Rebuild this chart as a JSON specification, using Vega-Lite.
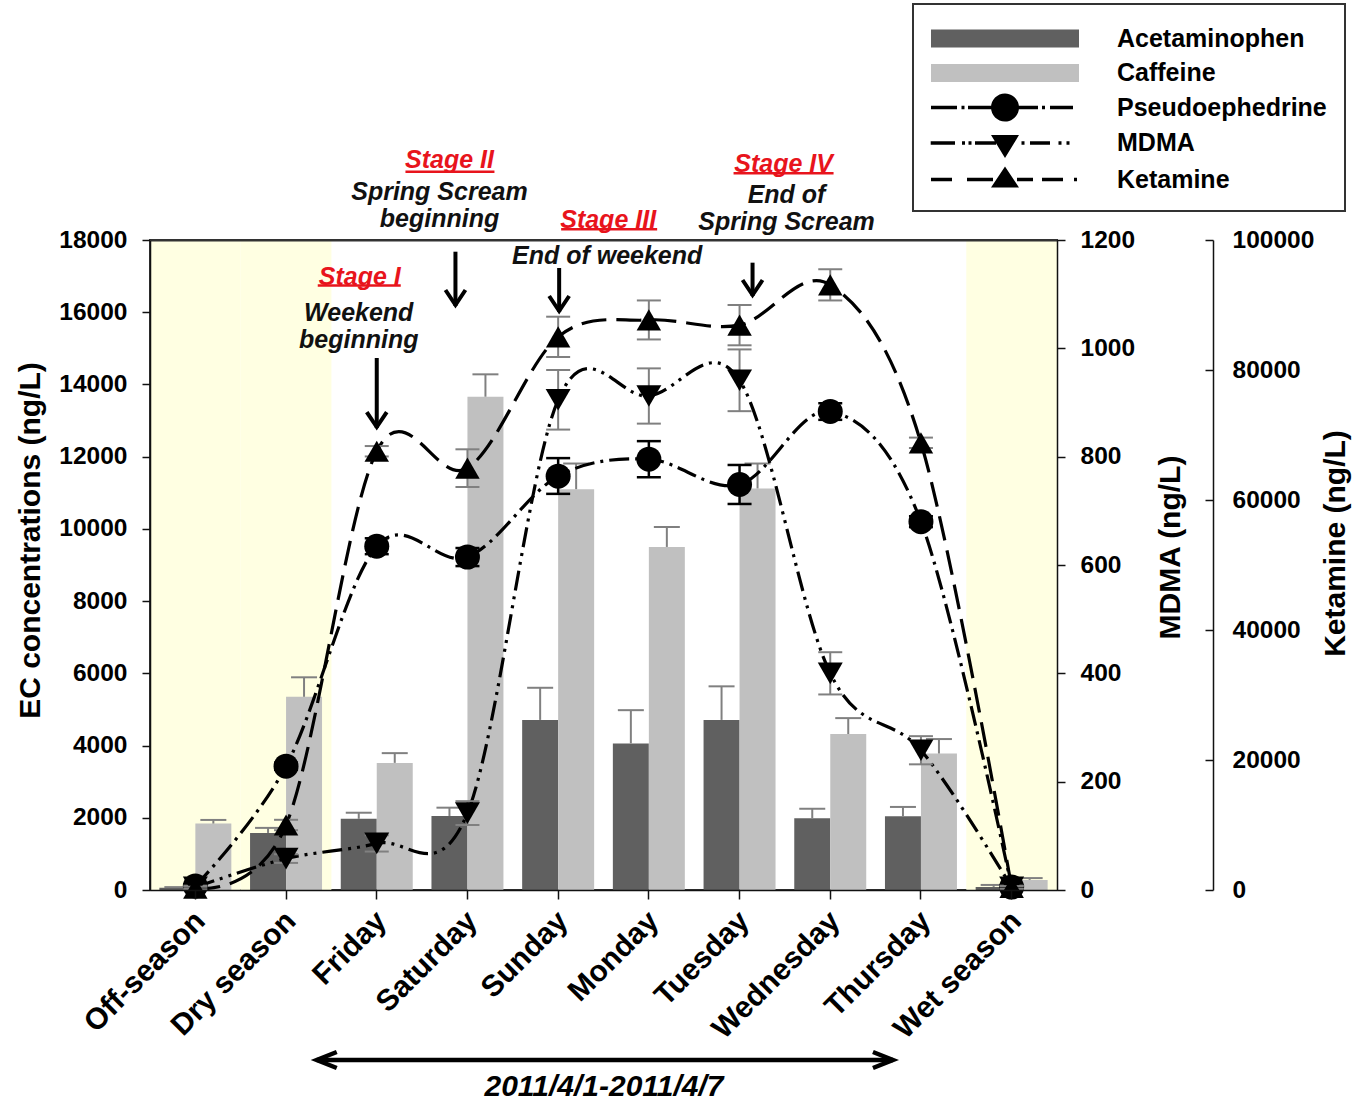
{
  "$schema": "https://vega.github.io/schema/vega-lite/v6.json",
  "width": 907,
  "height": 650,
  "autosize": {"type": "none"},
  "padding": {"left": 150, "top": 240, "right": 298, "bottom": 210},
  "background": "white",
  "datasets": {
    "shade": [{"day": "Off-season"}, {"day": "Dry season"}, {"day": "Wet season"}],
    "bars": [
      {"day": "Off-season", "series": "Acetaminophen", "v": 60, "hi": 80},
      {"day": "Off-season", "series": "Caffeine", "v": 1840, "hi": 1940},
      {"day": "Dry season", "series": "Acetaminophen", "v": 1580, "hi": 1720},
      {"day": "Dry season", "series": "Caffeine", "v": 5350, "hi": 5890},
      {"day": "Friday", "series": "Acetaminophen", "v": 1970, "hi": 2140},
      {"day": "Friday", "series": "Caffeine", "v": 3520, "hi": 3790},
      {"day": "Saturday", "series": "Acetaminophen", "v": 2050, "hi": 2280},
      {"day": "Saturday", "series": "Caffeine", "v": 13660, "hi": 14280},
      {"day": "Sunday", "series": "Acetaminophen", "v": 4710, "hi": 5600},
      {"day": "Sunday", "series": "Caffeine", "v": 11100, "hi": 11810},
      {"day": "Monday", "series": "Acetaminophen", "v": 4060, "hi": 4980},
      {"day": "Monday", "series": "Caffeine", "v": 9500, "hi": 10050},
      {"day": "Tuesday", "series": "Acetaminophen", "v": 4710, "hi": 5640},
      {"day": "Tuesday", "series": "Caffeine", "v": 11120, "hi": 11810},
      {"day": "Wednesday", "series": "Acetaminophen", "v": 1990, "hi": 2250},
      {"day": "Wednesday", "series": "Caffeine", "v": 4320, "hi": 4760},
      {"day": "Thursday", "series": "Acetaminophen", "v": 2040, "hi": 2300},
      {"day": "Thursday", "series": "Caffeine", "v": 3780, "hi": 4180},
      {"day": "Wet season", "series": "Acetaminophen", "v": 85, "hi": 140},
      {"day": "Wet season", "series": "Caffeine", "v": 280, "hi": 330}
    ],
    "drugs": [
      {"day": "Off-season", "pse": 110, "pse_lo": 60, "pse_hi": 160, "mdma": 5, "mdma_lo": 2, "mdma_hi": 8, "ket": 300, "ket_lo": 100, "ket_hi": 500},
      {"day": "Dry season", "pse": 3430, "pse_lo": 3330, "pse_hi": 3530, "mdma": 58, "mdma_lo": 50, "mdma_hi": 66, "ket": 10000, "ket_lo": 9200, "ket_hi": 10800},
      {"day": "Friday", "pse": 9520, "pse_lo": 9300, "pse_hi": 9740, "mdma": 86, "mdma_lo": 71, "mdma_hi": 101, "ket": 67500, "ket_lo": 66700, "ket_hi": 68300},
      {"day": "Saturday", "pse": 9220, "pse_lo": 8970, "pse_hi": 9470, "mdma": 142, "mdma_lo": 120, "mdma_hi": 164, "ket": 64900, "ket_lo": 62000, "ket_hi": 67800},
      {"day": "Sunday", "pse": 11460, "pse_lo": 10970, "pse_hi": 11960, "mdma": 905, "mdma_lo": 850, "mdma_hi": 960, "ket": 85100, "ket_lo": 82000, "ket_hi": 88200},
      {"day": "Monday", "pse": 11930, "pse_lo": 11430, "pse_hi": 12430, "mdma": 912, "mdma_lo": 861, "mdma_hi": 963, "ket": 87700, "ket_lo": 84700, "ket_hi": 90700},
      {"day": "Tuesday", "pse": 11230, "pse_lo": 10690, "pse_hi": 11770, "mdma": 941, "mdma_lo": 884, "mdma_hi": 998, "ket": 86900, "ket_lo": 83800, "ket_hi": 90000},
      {"day": "Wednesday", "pse": 13250, "pse_lo": 13020, "pse_hi": 13480, "mdma": 400, "mdma_lo": 361, "mdma_hi": 439, "ket": 93100, "ket_lo": 90700, "ket_hi": 95500},
      {"day": "Thursday", "pse": 10200, "pse_lo": 10050, "pse_hi": 10350, "mdma": 258, "mdma_lo": 232, "mdma_hi": 284, "ket": 68800, "ket_lo": 68000, "ket_hi": 69600},
      {"day": "Wet season", "pse": 80, "pse_lo": 30, "pse_hi": 130, "mdma": 5, "mdma_lo": 2, "mdma_hi": 8, "ket": 400, "ket_lo": 200, "ket_hi": 600}
    ],
    "legendrows": [
      {"series": "Acetaminophen"}, {"series": "Caffeine"}, {"series": "Pseudoephedrine"}, {"series": "MDMA"}, {"series": "Ketamine"}
    ]
  },
  "config": {
    "font": "Liberation Sans",
    "view": {"stroke": "#333", "strokeWidth": 2},
    "axis": {
      "labelFont": "Liberation Sans", "labelFontSize": 24.5, "labelFontWeight": "bold", "labelColor": "black",
      "titleFont": "Liberation Sans", "titleFontSize": 30, "titleFontWeight": "bold", "titleColor": "black",
      "domainColor": "#111", "domainWidth": 1.5, "tickColor": "#111", "tickWidth": 1.5, "tickSize": 8, "grid": false, "zindex": 1
    },
    "legend": {"strokeWidth": 2}
  },
  "layer": [
    {
      "layer": [
        {
          "data": {"name": "shade"},
          "mark": {"type": "rect", "color": "#ffffe2"},
          "encoding": {
            "x": {"field": "day", "type": "nominal"},
            "y": {"datum": 0, "type": "quantitative"},
            "y2": {"datum": 18000}
          }
        },
        {
          "data": {"name": "bars"},
          "mark": {"type": "bar"},
          "encoding": {
            "x": {
              "field": "day", "type": "nominal",
              "scale": {"domain": ["Off-season", "Dry season", "Friday", "Saturday", "Sunday", "Monday", "Tuesday", "Wednesday", "Thursday", "Wet season"], "paddingInner": 0, "paddingOuter": 0},
              "axis": {
                "orient": "bottom", "zindex": 1,
                "title": "2011/4/1-2011/4/7", "titleFontStyle": "italic", "titleFontSize": 30, "titleY": 205, "titleBaseline": "alphabetic",
                "labelAngle": -45, "labelFontSize": 30, "labelAlign": "right", "labelBaseline": "middle", "labelPadding": 17, "labelOffset": 5,
                "labelOverlap": false, "labelLimit": 400, "bandPosition": 0.5, "tickSize": 9
              }
            },
            "xOffset": {"field": "series", "type": "nominal", "scale": {"domain": ["Acetaminophen", "Caffeine"], "paddingInner": 0, "paddingOuter": 0.26}},
            "y": {
              "field": "v", "type": "quantitative",
              "scale": {"domain": [0, 18000], "nice": false},
              "axis": {
                "title": "EC concentrations (ng/L)", "orient": "left", "zindex": 1,
                "values": [0, 2000, 4000, 6000, 8000, 10000, 12000, 14000, 16000, 18000], "format": "d",
                "labelPadding": 15, "labelOverlap": false,
                "titleX": -120, "titleY": 300, "titleAngle": -90, "titleBaseline": "middle", "titleAlign": "center"
              }
            },
            "color": {"field": "series", "type": "nominal"}
          }
        },
        {
          "data": {"name": "bars"},
          "mark": {"type": "rule", "color": "#808080", "strokeWidth": 2},
          "encoding": {
            "x": {"field": "day", "type": "nominal"},
            "xOffset": {"field": "series", "type": "nominal"},
            "y": {"field": "v", "type": "quantitative"},
            "y2": {"field": "hi"}
          }
        },
        {
          "data": {"name": "bars"},
          "mark": {"type": "tick", "color": "#808080", "thickness": 2, "size": 26, "opacity": 1},
          "encoding": {
            "x": {"field": "day", "type": "nominal"},
            "xOffset": {"field": "series", "type": "nominal"},
            "y": {"field": "hi", "type": "quantitative"}
          }
        },
        {
          "data": {"name": "drugs"},
          "mark": {"type": "line", "interpolate": "cardinal", "color": "black", "strokeWidth": 3.2, "strokeDash": [20, 6, 3, 6], "clip": true},
          "encoding": {
            "x": {"field": "day", "type": "nominal", "sort": null},
            "y": {"field": "pse", "type": "quantitative"}
          }
        },
        {
          "data": {"name": "drugs"},
          "mark": {"type": "rule", "color": "black", "strokeWidth": 2.5},
          "encoding": {
            "x": {"field": "day", "type": "nominal"},
            "y": {"field": "pse_lo", "type": "quantitative"},
            "y2": {"field": "pse_hi"}
          }
        },
        {
          "data": {"name": "drugs"},
          "mark": {"type": "tick", "color": "black", "thickness": 2.5, "size": 24, "opacity": 1},
          "encoding": {
            "x": {"field": "day", "type": "nominal"},
            "y": {"field": "pse_lo", "type": "quantitative"}
          }
        },
        {
          "data": {"name": "drugs"},
          "mark": {"type": "tick", "color": "black", "thickness": 2.5, "size": 24, "opacity": 1},
          "encoding": {
            "x": {"field": "day", "type": "nominal"},
            "y": {"field": "pse_hi", "type": "quantitative"}
          }
        },
        {
          "data": {"name": "drugs"},
          "mark": {"type": "point", "shape": "circle", "filled": true, "color": "black", "size": 625, "opacity": 1, "strokeWidth": 0},
          "encoding": {
            "x": {"field": "day", "type": "nominal"},
            "y": {"field": "pse", "type": "quantitative"}
          }
        },
        {
          "data": {"values": [{}]},
          "mark": {"type": "text", "fontSize": 25, "fontWeight": "bold", "fontStyle": "italic", "color": "#e8141c", "align": "center", "baseline": "middle", "dx": -17},
          "encoding": {"x": {"datum": "Friday", "type": "nominal"}, "y": {"datum": 16981, "type": "quantitative"}, "text": {"value": "Stage I"}}
        },
        {
          "data": {"values": [{}]},
          "mark": {"type": "rule", "color": "#e8141c", "strokeWidth": 2.5, "xOffset": -59, "x2Offset": 24},
          "encoding": {"x": {"datum": "Friday", "type": "nominal"}, "x2": {"datum": "Friday"}, "y": {"datum": 16740, "type": "quantitative"}}
        },
        {
          "data": {"values": [{}]},
          "mark": {"type": "text", "fontSize": 25, "fontWeight": "bold", "fontStyle": "italic", "color": "#111", "align": "center", "baseline": "middle", "dx": -18, "lineHeight": 27},
          "encoding": {"x": {"datum": "Friday", "type": "nominal"}, "y": {"datum": 15992, "type": "quantitative"}, "text": {"value": ["Weekend", "beginning"]}}
        },
        {
          "data": {"values": [{}]},
          "mark": {"type": "rule", "color": "black", "strokeWidth": 4},
          "encoding": {"x": {"datum": "Friday", "type": "nominal"}, "y": {"datum": 14732, "type": "quantitative"}, "y2": {"datum": 12794}}
        },
        {
          "data": {"values": [{}]},
          "mark": {"type": "point", "shape": "M-1,-1.5L0,0L1,-1.5", "size": 400, "filled": false, "color": "black", "strokeWidth": 4, "opacity": 1, "strokeJoin": "miter"},
          "encoding": {"x": {"datum": "Friday", "type": "nominal"}, "y": {"datum": 12821, "type": "quantitative"}}
        },
        {
          "data": {"values": [{}]},
          "mark": {"type": "text", "fontSize": 25, "fontWeight": "bold", "fontStyle": "italic", "color": "#e8141c", "align": "center", "baseline": "middle", "dx": -18},
          "encoding": {"x": {"datum": "Saturday", "type": "nominal"}, "y": {"datum": 20210, "type": "quantitative"}, "text": {"value": "Stage II"}}
        },
        {
          "data": {"values": [{}]},
          "mark": {"type": "rule", "color": "#e8141c", "strokeWidth": 2.5, "xOffset": -62, "x2Offset": 27},
          "encoding": {"x": {"datum": "Saturday", "type": "nominal"}, "x2": {"datum": "Saturday"}, "y": {"datum": 19891, "type": "quantitative"}}
        },
        {
          "data": {"values": [{}]},
          "mark": {"type": "text", "fontSize": 25, "fontWeight": "bold", "fontStyle": "italic", "color": "#111", "align": "center", "baseline": "middle", "dx": -28, "lineHeight": 27},
          "encoding": {"x": {"datum": "Saturday", "type": "nominal"}, "y": {"datum": 19343, "type": "quantitative"}, "text": {"value": ["Spring Scream", "beginning"]}}
        },
        {
          "data": {"values": [{}]},
          "mark": {"type": "rule", "color": "black", "strokeWidth": 4, "xOffset": -12},
          "encoding": {"x": {"datum": "Saturday", "type": "nominal"}, "y": {"datum": 17676, "type": "quantitative"}, "y2": {"datum": 16172}}
        },
        {
          "data": {"values": [{}]},
          "mark": {"type": "point", "shape": "M-1,-1.5L0,0L1,-1.5", "size": 400, "filled": false, "color": "black", "strokeWidth": 4, "opacity": 1, "strokeJoin": "miter", "xOffset": -12},
          "encoding": {"x": {"datum": "Saturday", "type": "nominal"}, "y": {"datum": 16200, "type": "quantitative"}}
        },
        {
          "data": {"values": [{}]},
          "mark": {"type": "text", "fontSize": 25, "fontWeight": "bold", "fontStyle": "italic", "color": "#e8141c", "align": "center", "baseline": "middle", "dx": 50},
          "encoding": {"x": {"datum": "Sunday", "type": "nominal"}, "y": {"datum": 18548, "type": "quantitative"}, "text": {"value": "Stage III"}}
        },
        {
          "data": {"values": [{}]},
          "mark": {"type": "rule", "color": "#e8141c", "strokeWidth": 2.5, "xOffset": 3, "x2Offset": 99},
          "encoding": {"x": {"datum": "Sunday", "type": "nominal"}, "x2": {"datum": "Sunday"}, "y": {"datum": 18296, "type": "quantitative"}}
        },
        {
          "data": {"values": [{}]},
          "mark": {"type": "text", "fontSize": 25, "fontWeight": "bold", "fontStyle": "italic", "color": "#111", "align": "center", "baseline": "middle", "dx": 49},
          "encoding": {"x": {"datum": "Sunday", "type": "nominal"}, "y": {"datum": 17563, "type": "quantitative"}, "text": {"value": "End of weekend"}}
        },
        {
          "data": {"values": [{}]},
          "mark": {"type": "rule", "color": "black", "strokeWidth": 4, "xOffset": 1},
          "encoding": {"x": {"datum": "Sunday", "type": "nominal"}, "y": {"datum": 17225, "type": "quantitative"}, "y2": {"datum": 16006}}
        },
        {
          "data": {"values": [{}]},
          "mark": {"type": "point", "shape": "M-1,-1.5L0,0L1,-1.5", "size": 400, "filled": false, "color": "black", "strokeWidth": 4, "opacity": 1, "strokeJoin": "miter", "xOffset": 1},
          "encoding": {"x": {"datum": "Sunday", "type": "nominal"}, "y": {"datum": 16034, "type": "quantitative"}}
        },
        {
          "data": {"values": [{}]},
          "mark": {"type": "text", "fontSize": 25, "fontWeight": "bold", "fontStyle": "italic", "color": "#e8141c", "align": "center", "baseline": "middle", "dx": 44},
          "encoding": {"x": {"datum": "Tuesday", "type": "nominal"}, "y": {"datum": 20105, "type": "quantitative"}, "text": {"value": "Stage IV"}}
        },
        {
          "data": {"values": [{}]},
          "mark": {"type": "rule", "color": "#e8141c", "strokeWidth": 2.5, "xOffset": -6, "x2Offset": 94},
          "encoding": {"x": {"datum": "Tuesday", "type": "nominal"}, "x2": {"datum": "Tuesday"}, "y": {"datum": 19847, "type": "quantitative"}}
        },
        {
          "data": {"values": [{}]},
          "mark": {"type": "text", "fontSize": 25, "fontWeight": "bold", "fontStyle": "italic", "color": "#111", "align": "center", "baseline": "middle", "dx": 47, "lineHeight": 27},
          "encoding": {"x": {"datum": "Tuesday", "type": "nominal"}, "y": {"datum": 19252, "type": "quantitative"}, "text": {"value": ["End of", "Spring Scream"]}}
        },
        {
          "data": {"values": [{}]},
          "mark": {"type": "rule", "color": "black", "strokeWidth": 4, "xOffset": 13},
          "encoding": {"x": {"datum": "Tuesday", "type": "nominal"}, "y": {"datum": 17372, "type": "quantitative"}, "y2": {"datum": 16449}}
        },
        {
          "data": {"values": [{}]},
          "mark": {"type": "point", "shape": "M-1,-1.5L0,0L1,-1.5", "size": 400, "filled": false, "color": "black", "strokeWidth": 4, "opacity": 1, "strokeJoin": "miter", "xOffset": 13},
          "encoding": {"x": {"datum": "Tuesday", "type": "nominal"}, "y": {"datum": 16477, "type": "quantitative"}}
        },
        {
          "data": {"values": [{}]},
          "mark": {"type": "rule", "color": "black", "strokeWidth": 4.5, "xOffset": -60, "x2Offset": -28},
          "encoding": {"x": {"datum": "Friday", "type": "nominal"}, "x2": {"datum": "Thursday"}, "y": {"datum": -4708, "type": "quantitative"}}
        },
        {
          "data": {"values": [{}]},
          "mark": {"type": "point", "shape": "M2,-0.8L0,0L2,0.8", "size": 400, "filled": false, "color": "black", "strokeWidth": 4.5, "opacity": 1, "strokeJoin": "miter", "xOffset": -60},
          "encoding": {"x": {"datum": "Friday", "type": "nominal"}, "y": {"datum": -4708, "type": "quantitative"}}
        },
        {
          "data": {"values": [{}]},
          "mark": {"type": "point", "shape": "M-2,-0.8L0,0L-2,0.8", "size": 400, "filled": false, "color": "black", "strokeWidth": 4.5, "opacity": 1, "strokeJoin": "miter", "xOffset": -28},
          "encoding": {"x": {"datum": "Thursday", "type": "nominal"}, "y": {"datum": -4708, "type": "quantitative"}}
        }
      ]
    },
    {
      "layer": [
        {
          "data": {"name": "drugs"},
          "mark": {"type": "line", "interpolate": "cardinal", "color": "black", "strokeWidth": 3.2, "strokeDash": [20, 6, 3, 6, 3, 6], "clip": true},
          "encoding": {
            "x": {"field": "day", "type": "nominal", "sort": null,
                  "axis": {"orient": "top", "zindex": 1, "labels": false, "ticks": false, "title": null, "domain": true, "domainColor": "#333", "domainWidth": 2}},
            "y": {
              "field": "mdma", "type": "quantitative",
              "scale": {"domain": [0, 1200], "nice": false},
              "axis": {
                "title": "MDMA (ng/L)", "orient": "right", "zindex": 1, "values": [0, 200, 400, 600, 800, 1000, 1200], "format": "d",
                "labelPadding": 15, "labelOverlap": false,
                "titleX": 113, "titleY": 307, "titleAngle": -90, "titleBaseline": "middle", "titleAlign": "center"
              }
            }
          }
        },
        {
          "data": {"name": "drugs"},
          "mark": {"type": "rule", "color": "#808080", "strokeWidth": 2},
          "encoding": {
            "x": {"field": "day", "type": "nominal"},
            "y": {"field": "mdma_lo", "type": "quantitative"},
            "y2": {"field": "mdma_hi"}
          }
        },
        {
          "data": {"name": "drugs"},
          "mark": {"type": "tick", "color": "#808080", "thickness": 2, "size": 24, "opacity": 1},
          "encoding": {
            "x": {"field": "day", "type": "nominal"},
            "y": {"field": "mdma_lo", "type": "quantitative"}
          }
        },
        {
          "data": {"name": "drugs"},
          "mark": {"type": "tick", "color": "#808080", "thickness": 2, "size": 24, "opacity": 1},
          "encoding": {
            "x": {"field": "day", "type": "nominal"},
            "y": {"field": "mdma_hi", "type": "quantitative"}
          }
        },
        {
          "data": {"name": "drugs"},
          "mark": {"type": "point", "shape": "triangle-down", "filled": true, "color": "black", "size": 625, "opacity": 1, "strokeWidth": 0},
          "encoding": {
            "x": {"field": "day", "type": "nominal"},
            "y": {"field": "mdma", "type": "quantitative"}
          }
        }
      ]
    },
    {
      "layer": [
        {
          "data": {"name": "drugs"},
          "mark": {"type": "line", "interpolate": "cardinal", "color": "black", "strokeWidth": 3.2, "strokeDash": [25, 10], "clip": true},
          "encoding": {
            "x": {"field": "day", "type": "nominal", "sort": null, "axis": null},
            "y": {
              "field": "ket", "type": "quantitative",
              "scale": {"domain": [0, 100000], "nice": false},
              "axis": {
                "title": "Ketamine (ng/L)", "orient": "right", "offset": 156, "zindex": 1, "values": [0, 20000, 40000, 60000, 80000, 100000], "format": "d",
                "tickSize": -8, "labelPadding": 27, "labelOverlap": false,
                "titleX": 122, "titleY": 303, "titleAngle": -90, "titleBaseline": "middle", "titleAlign": "center"
              }
            }
          }
        },
        {
          "data": {"name": "drugs"},
          "mark": {"type": "rule", "color": "#808080", "strokeWidth": 2},
          "encoding": {
            "x": {"field": "day", "type": "nominal", "axis": null},
            "y": {"field": "ket_lo", "type": "quantitative"},
            "y2": {"field": "ket_hi"}
          }
        },
        {
          "data": {"name": "drugs"},
          "mark": {"type": "tick", "color": "#808080", "thickness": 2, "size": 24, "opacity": 1},
          "encoding": {
            "x": {"field": "day", "type": "nominal", "axis": null},
            "y": {"field": "ket_lo", "type": "quantitative"}
          }
        },
        {
          "data": {"name": "drugs"},
          "mark": {"type": "tick", "color": "#808080", "thickness": 2, "size": 24, "opacity": 1},
          "encoding": {
            "x": {"field": "day", "type": "nominal", "axis": null},
            "y": {"field": "ket_hi", "type": "quantitative"}
          }
        },
        {
          "data": {"name": "drugs"},
          "mark": {"type": "point", "shape": "triangle-up", "filled": true, "color": "black", "size": 600, "opacity": 1, "strokeWidth": 0},
          "encoding": {
            "x": {"field": "day", "type": "nominal", "axis": null},
            "y": {"field": "ket", "type": "quantitative"}
          }
        }
      ]
    },
    {
      "data": {"name": "legendrows"},
      "mark": {"type": "point", "filled": true, "opacity": 0, "size": 1089},
      "encoding": {
        "color": {
          "field": "series", "type": "nominal",
          "scale": {"domain": ["Acetaminophen", "Caffeine", "Pseudoephedrine", "MDMA", "Ketamine"], "range": ["#606060", "#c0c0c0", "black", "black", "black"]},
          "legend": {
            "title": null, "orient": "none", "legendX": 763, "legendY": -236, "direction": "vertical",
            "symbolSize": 1089, "symbolOffset": 57.5, "symbolOpacity": 1, "symbolStrokeWidth": 0,
            "rowPadding": 4.5, "padding": 18, "labelOffset": 95.5,
            "labelFont": "Liberation Sans", "labelFontSize": 25, "labelFontWeight": "bold", "labelColor": "black", "labelLimit": 400,
            "fillColor": "white", "strokeColor": "#333"
          }
        },
        "shape": {
          "field": "series", "type": "nominal",
          "scale": {
            "domain": ["Acetaminophen", "Caffeine", "Pseudoephedrine", "MDMA", "Ketamine"],
            "range": [
              "M-4.485,-0.545H4.485V0.545H-4.485Z",
              "M-4.485,-0.545H4.485V0.545H-4.485Z",
              "M-4.485,-0.106H-2.909V0.106H-4.485Z M-2.636,-0.106H-2.455V0.106H-2.636Z M-2.242,-0.106H-0.727V0.106H-2.242Z M-0.848,0A0.848,0.848 0 1 1 0.848,0A0.848,0.848 0 1 1 -0.848,0Z M0.727,-0.106H2V0.106H0.727Z M2.242,-0.106H2.424V0.106H2.242Z M2.727,-0.106H4.121V0.106H2.727Z",
              "M-4.503,-0.106H-3.03V0.106H-4.503Z M-2.606,-0.106H-2.424V0.106H-2.606Z M-2.212,-0.106H-2.03V0.106H-2.212Z M-1.818,-0.106H-0.545V0.106H-1.818Z M-0.848,-0.485L0.848,-0.485L0,0.909Z M1,-0.106H1.182V0.106H1Z M1.515,-0.106H2.727V0.106H1.515Z M3.242,-0.106H3.424V0.106H3.242Z M3.727,-0.106H3.909V0.106H3.727Z",
              "M-4.485,-0.106H-3.212V0.106H-4.485Z M-2.303,-0.106H-0.727V0.106H-2.303Z M0,-0.788L0.848,0.485L-0.848,0.485Z M0.727,-0.106H1.697V0.106H0.727Z M2.242,-0.106H3.515V0.106H2.242Z M4.182,-0.106H4.364V0.106H4.182Z"
            ]
          },
          "legend": {
            "title": null, "orient": "none", "legendX": 763, "legendY": -236, "direction": "vertical",
            "symbolSize": 1089, "symbolOffset": 57.5, "symbolOpacity": 1, "symbolStrokeWidth": 0,
            "rowPadding": 4.5, "padding": 18, "labelOffset": 95.5,
            "labelFont": "Liberation Sans", "labelFontSize": 25, "labelFontWeight": "bold", "labelColor": "black", "labelLimit": 400,
            "fillColor": "white", "strokeColor": "#333"
          }
        }
      }
    }
  ],
  "resolve": {"scale": {"y": "independent"}, "axis": {"x": "independent"}}
}
